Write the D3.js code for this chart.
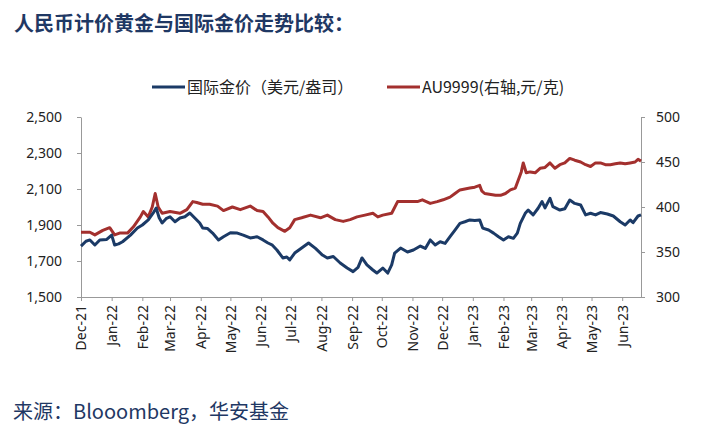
<!DOCTYPE html>
<html>
<head>
<meta charset="utf-8">
<title>人民币计价黄金与国际金价走势比较</title>
<script src="https://d3js.org/d3.v7.min.js"></script>
<style>
  body { margin: 0; background: #fff; }
  text { font-family: "Noto Sans", "Noto Sans CJK SC", sans-serif; }
</style>
</head>
<body>
<div id="chart"></div>
<script>
// 国际金价 (USD/oz)
var usdDates = ["2021-12-01","2021-12-06","2021-12-10","2021-12-15","2021-12-20","2021-12-27","2022-01-01","2022-01-04","2022-01-08","2022-01-12","2022-01-20","2022-01-27","2022-02-01","2022-02-07","2022-02-12","2022-02-15","2022-02-18","2022-02-21","2022-02-25","2022-03-01","2022-03-06","2022-03-11","2022-03-16","2022-03-21","2022-03-26","2022-03-31","2022-04-03","2022-04-08","2022-04-13","2022-04-19","2022-04-24","2022-05-01","2022-05-08","2022-05-14","2022-05-21","2022-05-28","2022-06-03","2022-06-08","2022-06-12","2022-06-17","2022-06-23","2022-06-27","2022-06-30","2022-07-05","2022-07-12","2022-07-19","2022-07-26","2022-08-02","2022-08-07","2022-08-13","2022-08-20","2022-08-27","2022-09-02","2022-09-07","2022-09-11","2022-09-16","2022-09-22","2022-09-26","2022-10-02","2022-10-07","2022-10-11","2022-10-14","2022-10-20","2022-10-27","2022-11-02","2022-11-09","2022-11-14","2022-11-19","2022-11-24","2022-11-29","2022-12-04","2022-12-09","2022-12-14","2022-12-19","2022-12-24","2022-12-29","2023-01-03","2023-01-08","2023-01-11","2023-01-17","2023-01-22","2023-01-27","2023-02-01","2023-02-06","2023-02-11","2023-02-15","2023-02-18","2023-02-23","2023-02-26","2023-03-03","2023-03-08","2023-03-12","2023-03-15","2023-03-20","2023-03-23","2023-03-30","2023-04-04","2023-04-09","2023-04-14","2023-04-20","2023-04-25","2023-04-30","2023-05-05","2023-05-10","2023-05-17","2023-05-23","2023-05-30","2023-06-04","2023-06-09","2023-06-12","2023-06-17","2023-06-20"];
var usdPrice = [1783,1810,1817,1789,1817,1820,1844,1789,1795,1807,1844,1883,1900,1928,1967,1994,1940,1911,1935,1946,1918,1939,1946,1967,1939,1911,1883,1880,1855,1817,1835,1857,1855,1844,1828,1835,1817,1800,1790,1761,1717,1722,1706,1744,1772,1800,1770,1733,1717,1725,1689,1661,1641,1665,1717,1678,1650,1633,1661,1633,1678,1744,1772,1750,1761,1783,1770,1817,1789,1807,1798,1835,1872,1909,1918,1928,1925,1928,1883,1872,1855,1835,1817,1835,1826,1855,1909,1965,1983,1956,1993,2030,1995,2048,2002,1983,1990,2039,2020,2011,1956,1965,1956,1969,1961,1950,1918,1900,1928,1913,1950,1956];

// AU9999 (CNY/g, right axis)
var cnyDates = ["2021-12-01","2021-12-10","2021-12-15","2021-12-23","2021-12-30","2022-01-04","2022-01-09","2022-01-17","2022-01-23","2022-01-30","2022-02-02","2022-02-07","2022-02-11","2022-02-14","2022-02-17","2022-02-21","2022-03-01","2022-03-11","2022-03-18","2022-03-24","2022-03-28","2022-04-03","2022-04-10","2022-04-18","2022-04-24","2022-05-03","2022-05-11","2022-05-21","2022-05-28","2022-06-03","2022-06-08","2022-06-13","2022-06-18","2022-06-25","2022-06-30","2022-07-05","2022-07-12","2022-07-21","2022-07-31","2022-08-07","2022-08-15","2022-08-23","2022-08-30","2022-09-06","2022-09-14","2022-09-22","2022-09-27","2022-10-02","2022-10-11","2022-10-17","2022-10-27","2022-11-06","2022-11-11","2022-11-19","2022-11-26","2022-12-02","2022-12-09","2022-12-14","2022-12-19","2022-12-29","2023-01-03","2023-01-08","2023-01-10","2023-01-13","2023-01-24","2023-01-29","2023-02-03","2023-02-08","2023-02-13","2023-02-16","2023-02-19","2023-02-21","2023-02-24","2023-02-28","2023-03-05","2023-03-10","2023-03-15","2023-03-20","2023-03-25","2023-03-30","2023-04-04","2023-04-09","2023-04-14","2023-04-20","2023-04-25","2023-04-30","2023-05-05","2023-05-10","2023-05-15","2023-05-20","2023-05-25","2023-05-30","2023-06-04","2023-06-09","2023-06-14","2023-06-17","2023-06-20"];
var cnyPrice = [372,372,369,374,377,369,371,371,378,389,395,389,400,415,400,393,395,393,397,406,405,403,403,401,396,400,397,401,396,395,389,382,377,373,377,386,388,391,388,391,386,384,386,389,391,393,389,391,393,406,406,406,408,404,406,408,411,415,419,421,422,424,418,415,413,413,415,419,421,430,439,449,438,439,438,443,444,449,443,447,449,454,452,450,447,445,449,449,447,447,448,449,448,449,450,453,451];

var leftTicks = [1500, 1700, 1900, 2100, 2300, 2500];
var rightTicks = [300, 350, 400, 450, 500];
var seriesNames = ["国际金价（美元/盎司）", "AU9999(右轴,元/克)"];
var colors = ["#1B3A66", "#A3302E"];

var W = 704, H = 438;
var margin = {top: 117, right: 63, bottom: 141, left: 81};
var width = W - margin.left - margin.right,
    height = H - margin.top - margin.bottom;

var parse = d3.timeParse("%Y-%m-%d");
var usd = usdDates.map(function(d, i) { return {date: parse(d), v: usdPrice[i]}; });
var cny = cnyDates.map(function(d, i) { return {date: parse(d), v: cnyPrice[i]}; });

var svg = d3.select("#chart").append("svg")
    .attr("width", W).attr("height", H);

// title
svg.append("text")
    .attr("x", 14).attr("y", 31)
    .style("font-family", "'Noto Sans CJK SC', sans-serif")
    .style("font-size", "20px").style("font-weight", "bold")
    .attr("fill", "#1F3864")
    .text("人民币计价黄金与国际金价走势比较：");

// source
svg.append("text")
    .attr("x", 13).attr("y", 419)
    .style("font-family", "'Noto Sans CJK SC', sans-serif")
    .style("font-size", "20px")
    .attr("fill", "#1F3864")
    .text("来源：Blooomberg，华安基金");

var g = svg.append("g")
    .attr("transform", "translate(" + margin.left + "," + margin.top + ")");

var x = d3.scaleTime()
    .domain([parse("2021-12-01"), parse("2023-06-20")])
    .range([0, width]);
var yL = d3.scaleLinear().domain([1500, 2500]).range([height, 0]);
var yR = d3.scaleLinear().domain([300, 500]).range([height, 0]);

// axes
var xAxis = g.append("g")
    .attr("transform", "translate(0," + height + ")")
    .call(d3.axisBottom(x)
        .ticks(d3.timeMonth.every(1))
        .tickSize(4)
        .tickSizeOuter(0)
        .tickFormat(d3.timeFormat("%b-%y")));
xAxis.selectAll("text")
    .attr("transform", "rotate(-90)")
    .attr("x", -8).attr("y", 0).attr("dy", "0.35em")
    .style("text-anchor", "end")
    .style("font-size", "14px")
    .attr("fill", "#222");

var leftAxis = g.append("g")
    .call(d3.axisLeft(yL).tickValues(leftTicks).tickSize(4).tickSizeOuter(0)
        .tickFormat(d3.format(",")));
leftAxis.selectAll("text").style("font-size", "14px").attr("fill", "#222").attr("x", -19);

var rightAxis = g.append("g")
    .attr("transform", "translate(" + width + ",0)")
    .call(d3.axisRight(yR).tickValues(rightTicks).tickSize(4).tickSizeOuter(0));
rightAxis.selectAll("text").style("font-size", "14px").attr("fill", "#222").attr("x", 15);

g.selectAll(".domain, .tick line").attr("stroke", "#999");

// lines
var lineL = d3.line().x(function(d) { return x(d.date); }).y(function(d) { return yL(d.v); });
var lineR = d3.line().x(function(d) { return x(d.date); }).y(function(d) { return yR(d.v); });

g.append("path").datum(cny)
    .attr("fill", "none").attr("stroke", colors[1])
    .attr("stroke-width", 3).attr("stroke-linejoin", "round")
    .attr("d", lineR);
g.append("path").datum(usd)
    .attr("fill", "none").attr("stroke", colors[0])
    .attr("stroke-width", 3).attr("stroke-linejoin", "round")
    .attr("d", lineL);

// legend
var legendX = [152, 387];
seriesNames.forEach(function(name, i) {
    var lg = svg.append("g").attr("transform", "translate(" + legendX[i] + ",87)");
    lg.append("line").attr("x1", 0).attr("x2", 33).attr("y1", 0).attr("y2", 0)
        .attr("stroke", colors[i]).attr("stroke-width", 3);
    lg.append("text").attr("x", 35).attr("y", 0).attr("dy", "0.35em")
        .style("font-family", "'Noto Sans CJK SC', sans-serif")
        .style("font-size", "16px").attr("fill", "#222")
        .text(name);
});
</script>
</body>
</html>
